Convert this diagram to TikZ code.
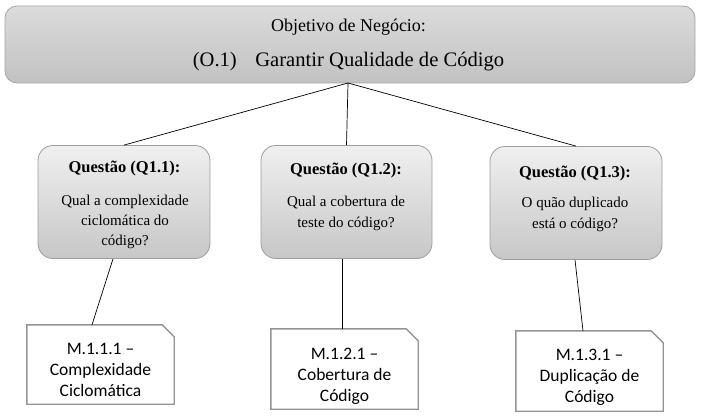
\documentclass[tikz,border=0pt]{standalone}
\usepackage{fontspec}
\setmainfont{Liberation Serif}
\newfontfamily\calibri{Carlito}
\begin{document}
\begin{tikzpicture}[x=1pt,y=-1pt,
  objbox/.style={draw=black!35, line width=0.8pt, rounded corners=12pt,
    top color=black!14, bottom color=black!24, minimum width=690pt, minimum height=77pt, inner sep=0pt},
  qbox/.style={draw=black!38, line width=0.8pt, rounded corners=15pt,
    top color=black!6, bottom color=black!22, minimum width=172pt, minimum height=113pt, inner sep=0pt},
  qhead/.style={anchor=base, inner sep=0pt, font=\bfseries\fontsize{16.5}{20}\selectfont},
  qline/.style={anchor=base, inner sep=0pt, font=\fontsize{15}{20}\selectfont},
  docbox/.style={minimum width=147pt, minimum height=80pt, inner sep=0pt},
  docline/.style={anchor=base, inner sep=0pt, font=\calibri\fontsize{17.5}{21}\selectfont},
  docedge/.style={draw=black!42, line width=1.4pt, fill=white},
  link/.style={draw=black, line width=0.7pt}
]
\useasboundingbox (0,0) rectangle (704,417);
% top objective
\node[objbox] (obj) at (350,44.5) {};
\node[anchor=base, inner sep=0pt, font=\fontsize{18}{20}\selectfont] (objt1) at (348.5,32) {Objetivo de Negócio:};
\node[anchor=base, inner sep=0pt, font=\fontsize{20.6}{24}\selectfont] (objt2) at (348.5,67) {(O.1)\hspace{0.9em}Garantir Qualidade de Código};
\coordinate (hub) at (348,83);
% questions
\node[qbox] (q1) at (124,202) {};
\node[qbox, minimum width=171pt] (q2) at (346.5,202) {};
\node[qbox] (q3) at (576,203) {};
\node[qhead] (q1h) at (124.5,172) {Questão (Q1.1):};
\node[qline] (q1a) at (125,205) {Qual a complexidade};
\node[qline] (q1b) at (125,225) {ciclomática do};
\node[qline] (q1c) at (125,245) {código?};
\node[qhead] (q2h) at (346,174) {Questão (Q1.2):};
\node[qline] (q2a) at (346,206) {Qual a cobertura de};
\node[qline] (q2b) at (346,227) {teste do código?};
\node[qhead] (q3h) at (575,177) {Questão (Q1.3):};
\node[qline] (q3a) at (575,207) {O quão duplicado};
\node[qline] (q3b) at (575,228) {está o código?};
% documents
\node[docbox, minimum height=79pt] (d1) at (100.5,364.5) {};
\node[docbox, minimum height=80pt] (d2) at (344.5,369) {};
\node[docbox] (d3) at (589.5,371) {};
\foreach \d in {d1,d2,d3}{
  \draw[docedge]
    (\d.south west) -- (\d.north west) -- ([xshift=-12pt]\d.north east)
    -- ([yshift=-12pt]\d.north east) -- (\d.south east) -- cycle;
}
\node[docline] (d1a) at (100.5,354) {M.1.1.1 –};
\node[docline] (d1b) at (100.5,375) {Complexidade};
\node[docline] (d1c) at (100.5,396) {Ciclomática};
\node[docline] (d2a) at (344.5,359) {M.1.2.1 –};
\node[docline] (d2b) at (344.5,380) {Cobertura de};
\node[docline] (d2c) at (344.5,401) {Código};
\node[docline] (d3a) at (589.5,360) {M.1.3.1 –};
\node[docline] (d3b) at (589.5,381) {Duplicação de};
\node[docline] (d3c) at (589.5,402) {Código};
% connectors
\draw[link] (hub) -- (q1.north);
\draw[link] (hub) -- (q2.north);
\draw[link] (hub) -- (q3.north);
\draw[link] ([xshift=-11pt]q1.south) -- ([xshift=-8.5pt]d1.north);
\draw[link] ([xshift=-4.5pt]q2.south) -- ([xshift=-2.5pt]d2.north);
\draw[link] ([xshift=-1pt]q3.south) -- ([xshift=-6.5pt]d3.north);
\end{tikzpicture}
\end{document}
